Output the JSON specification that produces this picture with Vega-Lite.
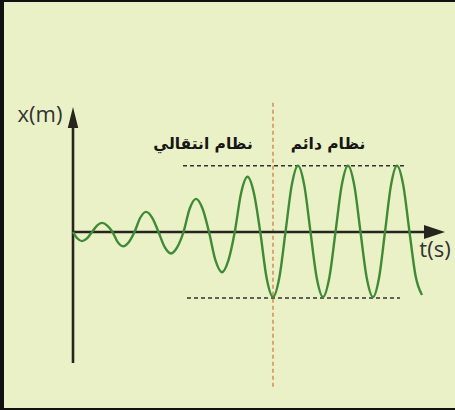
{
  "$schema": "https://vega.github.io/schema/vega-lite/v6.json",
  "autosize": {"type": "none"},
  "width": 451,
  "height": 406,
  "padding": {"left": 4, "top": 2, "right": 0, "bottom": 2},
  "background": "#111111",
  "view": {"fill": "#eaf1c6", "stroke": null},
  "datasets": {
    "curve": [
      {"t": 0, "x": 0}, {"t": 0.09, "x": -0.1}, {"t": 0.18, "x": -0.14},
      {"t": 0.28, "x": -0.099}, {"t": 0.38, "x": 0}, {"t": 0.48, "x": 0.099}, {"t": 0.58, "x": 0.14},
      {"t": 0.685, "x": 0.099}, {"t": 0.79, "x": 0}, {"t": 0.895, "x": -0.156}, {"t": 1.0, "x": -0.22},
      {"t": 1.115, "x": -0.156}, {"t": 1.23, "x": 0}, {"t": 1.345, "x": 0.219}, {"t": 1.46, "x": 0.31},
      {"t": 1.585, "x": 0.219}, {"t": 1.71, "x": 0}, {"t": 1.835, "x": -0.233}, {"t": 1.96, "x": -0.33},
      {"t": 2.085, "x": -0.233}, {"t": 2.21, "x": 0}, {"t": 2.335, "x": 0.361}, {"t": 2.46, "x": 0.51},
      {"t": 2.59, "x": 0.361}, {"t": 2.72, "x": 0}, {"t": 2.85, "x": -0.438}, {"t": 2.98, "x": -0.62},
      {"t": 3.1075, "x": -0.438}, {"t": 3.235, "x": 0}, {"t": 3.3625, "x": 0.601}, {"t": 3.49, "x": 0.85},
      {"t": 3.6175, "x": 0.601}, {"t": 3.745, "x": 0}, {"t": 3.8725, "x": -0.707}, {"t": 4.0, "x": -1.0},
      {"t": 4.125, "x": -0.707}, {"t": 4.25, "x": 0}, {"t": 4.375, "x": 0.721}, {"t": 4.5, "x": 1.02},
      {"t": 4.625, "x": 0.721}, {"t": 4.75, "x": 0}, {"t": 4.875, "x": -0.707}, {"t": 5.0, "x": -1.0},
      {"t": 5.125, "x": -0.707}, {"t": 5.25, "x": 0}, {"t": 5.375, "x": 0.721}, {"t": 5.5, "x": 1.02},
      {"t": 5.625, "x": 0.721}, {"t": 5.75, "x": 0}, {"t": 5.875, "x": -0.707}, {"t": 6.0, "x": -1.0},
      {"t": 6.12, "x": -0.707}, {"t": 6.24, "x": 0}, {"t": 6.36, "x": 0.721}, {"t": 6.48, "x": 1.02},
      {"t": 6.605, "x": 0.721}, {"t": 6.73, "x": 0}, {"t": 6.855, "x": -0.69}, {"t": 6.98, "x": -0.97}
    ],
    "axes": [
      {"t": 0, "t2": 0, "x": -2.015, "x2": 1.6},
      {"t": 0, "t2": 7.1, "x": 0, "x2": 0}
    ],
    "levels": [
      {"t": 2.2, "t2": 6.64, "x": 1.02, "x2": 1.02},
      {"t": 2.28, "t2": 6.54, "x": -1.015, "x2": -1.015}
    ],
    "divider": [
      {"t": 4.0, "t2": 4.0, "x": 1.99, "x2": -2.385}
    ],
    "arrowUp": [{"t": 0, "x": 1.762}],
    "arrowRight": [{"t": 7.23, "x": 0}],
    "regimes": [
      {"t": 2.6, "x": 1.36, "label": "نظام انتقالي"},
      {"t": 5.1, "x": 1.36, "label": "نظام دائم"}
    ],
    "axisLabels": [
      {"t": -0.66, "x": 1.8, "label": "x(m)"},
      {"t": 7.24, "x": -0.28, "label": "t(s)"}
    ]
  },
  "encoding": {
    "x": {"field": "t", "type": "quantitative", "axis": null,
          "scale": {"domain": [-1.38, 7.64], "nice": false, "zero": false}},
    "y": {"field": "x", "type": "quantitative", "axis": null,
          "scale": {"domain": [-2.7077, 3.5385], "nice": false, "zero": false}}
  },
  "layer": [
    {
      "data": {"name": "divider"},
      "mark": {"type": "rule", "stroke": "#d9905e", "strokeWidth": 1.6, "strokeDash": [4, 3]},
      "encoding": {"x2": {"field": "t2"}, "y2": {"field": "x2"}}
    },
    {
      "data": {"name": "levels"},
      "mark": {"type": "rule", "stroke": "#333333", "strokeWidth": 1.4, "strokeDash": [4, 3]},
      "encoding": {"x2": {"field": "t2"}, "y2": {"field": "x2"}}
    },
    {
      "data": {"name": "axes"},
      "mark": {"type": "rule", "stroke": "#26261f", "strokeWidth": 2.6},
      "encoding": {"x2": {"field": "t2"}, "y2": {"field": "x2"}}
    },
    {
      "data": {"name": "arrowUp"},
      "mark": {"type": "point", "shape": "M0,-1L0.5,1L-0.5,1Z", "size": 441, "filled": true, "fill": "#26261f", "opacity": 1, "strokeWidth": 0}
    },
    {
      "data": {"name": "arrowRight"},
      "mark": {"type": "point", "shape": "M1,0L-1,0.67L-1,-0.67Z", "size": 441, "filled": true, "fill": "#26261f", "opacity": 1, "strokeWidth": 0}
    },
    {
      "data": {"name": "curve"},
      "mark": {"type": "line", "stroke": "#3f8a36", "strokeWidth": 2.4, "interpolate": "monotone"},
      "encoding": {"order": {"field": "t", "type": "quantitative"}}
    },
    {
      "data": {"name": "regimes"},
      "mark": {"type": "text", "font": "DejaVu Sans", "fontSize": 15.5, "fontWeight": "bold", "fill": "#161616", "align": "center", "baseline": "middle"},
      "encoding": {"text": {"field": "label"}}
    },
    {
      "data": {"name": "axisLabels"},
      "mark": {"type": "text", "font": "Open Sans", "fontSize": 22, "fill": "#333333", "align": "center", "baseline": "middle"},
      "encoding": {"text": {"field": "label"}}
    }
  ]
}
